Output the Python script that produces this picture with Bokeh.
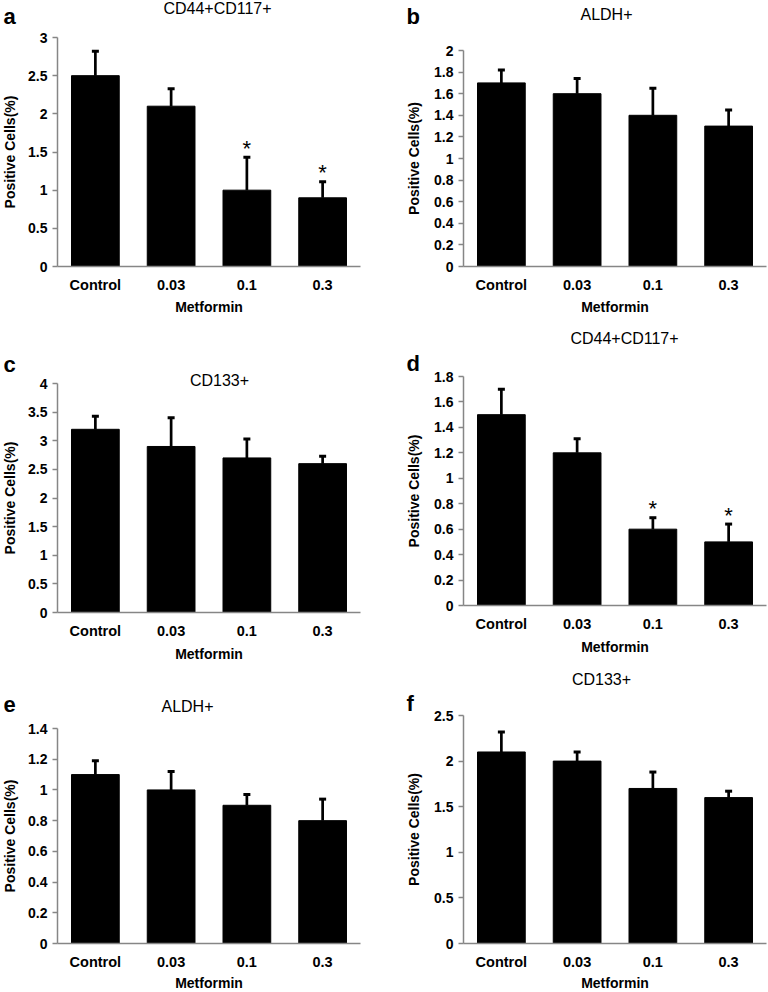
from bokeh.plotting import figure
from bokeh.models import (ColumnDataSource, Whisker, TeeHead, Range1d,
                          FixedTicker, CustomJSTickFormatter, Label)
from bokeh.layouts import column, row
from bokeh.embed import file_html
from bokeh.resources import INLINE
from bokeh.core.properties import value

# ---------------- data ----------------
categories = ["Control", "0.03", "0.1", "0.3"]
x_label = "Metformin"
y_label = "Positive Cells(%)"

a_title = "CD44+CD117+"
a_vals = [2.5, 2.1, 1.0, 0.9]
a_err_top = [2.82, 2.33, 1.43, 1.11]
a_star = [False, False, True, True]
a_ticks = [0, 0.5, 1, 1.5, 2, 2.5, 3]

b_title = "ALDH+"
b_vals = [1.7, 1.6, 1.4, 1.3]
b_err_top = [1.82, 1.74, 1.65, 1.45]
b_star = [False, False, False, False]
b_ticks = [0, 0.2, 0.4, 0.6, 0.8, 1, 1.2, 1.4, 1.6, 1.8, 2]

c_title = "CD133+"
c_vals = [3.2, 2.9, 2.7, 2.6]
c_err_top = [3.43, 3.4, 3.03, 2.73]
c_star = [False, False, False, False]
c_ticks = [0, 0.5, 1, 1.5, 2, 2.5, 3, 3.5, 4]

d_title = "CD44+CD117+"
d_vals = [1.5, 1.2, 0.6, 0.5]
d_err_top = [1.70, 1.31, 0.69, 0.64]
d_star = [False, False, True, True]
d_ticks = [0, 0.2, 0.4, 0.6, 0.8, 1, 1.2, 1.4, 1.6, 1.8]

e_title = "ALDH+"
e_vals = [1.1, 1.0, 0.9, 0.8]
e_err_top = [1.19, 1.12, 0.97, 0.94]
e_star = [False, False, False, False]
e_ticks = [0, 0.2, 0.4, 0.6, 0.8, 1, 1.2, 1.4]

f_title = "CD133+"
f_vals = [2.1, 2.0, 1.7, 1.6]
f_err_top = [2.32, 2.10, 1.88, 1.67]
f_star = [False, False, False, False]
f_ticks = [0, 0.5, 1, 1.5, 2, 2.5]

# ---------------- layout (pixels inside each panel) ----------------
FONT = "Liberation Sans"
AXIS_COLOR = "#868686"

geoms = {
    "a": dict(W=384, H=320, L=57, R=360, T=37, B=266, tx=217, ty=8, lx=3, ly=16, yso=7, xso=3),
    "b": dict(W=383, H=320, L=79, R=382, T=50, B=266, tx=222, ty=14, lx=22, ly=16, yso=9, xso=3),
    "c": dict(W=384, H=340, L=57, R=360, T=63, B=292, tx=219, ty=60, lx=3, ly=44, yso=7, xso=4),
    "d": dict(W=383, H=340, L=79, R=382, T=56, B=285, tx=240, ty=18, lx=22, ly=43, yso=9, xso=4),
    "e": dict(W=384, H=331, L=57, R=360, T=68, B=283, tx=187, ty=46, lx=3, ly=44, yso=7, xso=2),
    "f": dict(W=383, H=331, L=79, R=382, T=55, B=283, tx=217, ty=19, lx=22, ly=43, yso=9, xso=2),
}


def make_panel(letter, title, vals, tops, stars, ticks, g):
    W, H, L, R, T, B = g["W"], g["H"], g["L"], g["R"], g["T"], g["B"]
    ncat = len(categories)
    ymax = ticks[-1]
    ux = ncat / (R - L)          # data units per pixel (x)
    uy = ymax / (B - T)          # data units per pixel (y)
    xs = [i + 0.5 for i in range(ncat)]

    p = figure(width=W, height=H,
               x_range=Range1d(-L * ux, ncat + (W - R) * ux),
               y_range=Range1d(-(H - B) * uy, ymax + T * uy),
               output_backend="svg", toolbar_location=None, title=None,
               min_border=0)

    src = ColumnDataSource(dict(x=xs, cat=categories, val=vals, top=tops))
    p.vbar(x="x", top="val", width=0.63, source=src,
           fill_color="black", line_color="black")
    p.add_layout(Whisker(source=src, base="x", lower="val", upper="top",
                         dimension="height", line_color="black", line_width=2.7,
                         upper_head=TeeHead(size=7, line_width=3, line_color="black"),
                         lower_head=None, level="annotation"))

    sx = [x for x, s in zip(xs, stars) if s]
    sy = [t for t, s in zip(tops, stars) if s]
    if sx:
        p.text(x=sx, y=sy, text=["*"] * len(sx), text_font=value(FONT),
               text_font_size="22px", text_align="center", y_offset=-9,
               text_baseline="alphabetic", text_color="black")

    p.add_layout(Label(x=(g["tx"] - L) * ux, y=(B - g["ty"]) * uy,
                       text=title, text_font=FONT,
                       text_font_size="16px", text_align="center",
                       text_baseline="alphabetic", text_color="black"))
    p.add_layout(Label(x=(g["lx"] - L) * ux, y=(B - g["ly"]) * uy,
                       text=letter, text_font=FONT,
                       text_font_size="22px", text_font_style="bold",
                       text_align="left", text_baseline="alphabetic",
                       text_color="black"))

    # x axis (category axis drawn at y = 0)
    xa = p.xaxis[0]
    xa.fixed_location = 0
    xa.bounds = (0, ncat)
    xa.ticker = FixedTicker(ticks=xs)
    xa.formatter = CustomJSTickFormatter(args=dict(cats=categories),
                                         code="return cats[Math.round(tick - 0.5)];")
    xa.axis_label = x_label
    xa.axis_label_text_font = FONT
    xa.axis_label_text_font_size = "14px"
    xa.axis_label_text_font_style = "bold"
    xa.axis_label_text_color = "black"
    xa.axis_label_standoff = g["xso"]
    xa.major_label_text_font = FONT
    xa.major_label_text_font_size = "14.5px"
    xa.major_label_text_font_style = "bold"
    xa.major_label_text_color = "black"
    xa.major_label_standoff = 10
    xa.major_tick_out = 0
    xa.major_tick_in = 0
    xa.major_tick_line_color = None
    xa.minor_tick_line_color = None
    xa.axis_line_color = AXIS_COLOR
    xa.axis_line_width = 1.5

    # y axis drawn at x = 0
    ya = p.yaxis[0]
    ya.fixed_location = 0
    ya.bounds = (0, ymax)
    ya.ticker = FixedTicker(ticks=ticks)
    ya.formatter = CustomJSTickFormatter(code="return String(Math.round(tick*10)/10);")
    ya.axis_label = y_label
    ya.axis_label_text_font = FONT
    ya.axis_label_text_font_size = "14px"
    ya.axis_label_text_font_style = "bold"
    ya.axis_label_text_color = "black"
    ya.axis_label_standoff = g["yso"]
    ya.major_label_text_font = FONT
    ya.major_label_text_font_size = "14px"
    ya.major_label_text_font_style = "bold"
    ya.major_label_text_color = "black"
    ya.major_label_standoff = 5
    ya.major_tick_out = 5
    ya.major_tick_in = 0
    ya.major_tick_line_color = AXIS_COLOR
    ya.major_tick_line_width = 1.5
    ya.minor_tick_line_color = None
    ya.axis_line_color = AXIS_COLOR
    ya.axis_line_width = 1.5

    p.xgrid.grid_line_color = None
    p.ygrid.grid_line_color = None
    p.outline_line_color = None
    p.background_fill_color = "white"
    p.border_fill_color = "white"
    return p


pa = make_panel("a", a_title, a_vals, a_err_top, a_star, a_ticks, geoms["a"])
pb = make_panel("b", b_title, b_vals, b_err_top, b_star, b_ticks, geoms["b"])
pc = make_panel("c", c_title, c_vals, c_err_top, c_star, c_ticks, geoms["c"])
pd_ = make_panel("d", d_title, d_vals, d_err_top, d_star, d_ticks, geoms["d"])
pe = make_panel("e", e_title, e_vals, e_err_top, e_star, e_ticks, geoms["e"])
pf = make_panel("f", f_title, f_vals, f_err_top, f_star, f_ticks, geoms["f"])

layout = column(row(pa, pb), row(pc, pd_), row(pe, pf))

open("out.html", "w").write(file_html(layout, INLINE))
